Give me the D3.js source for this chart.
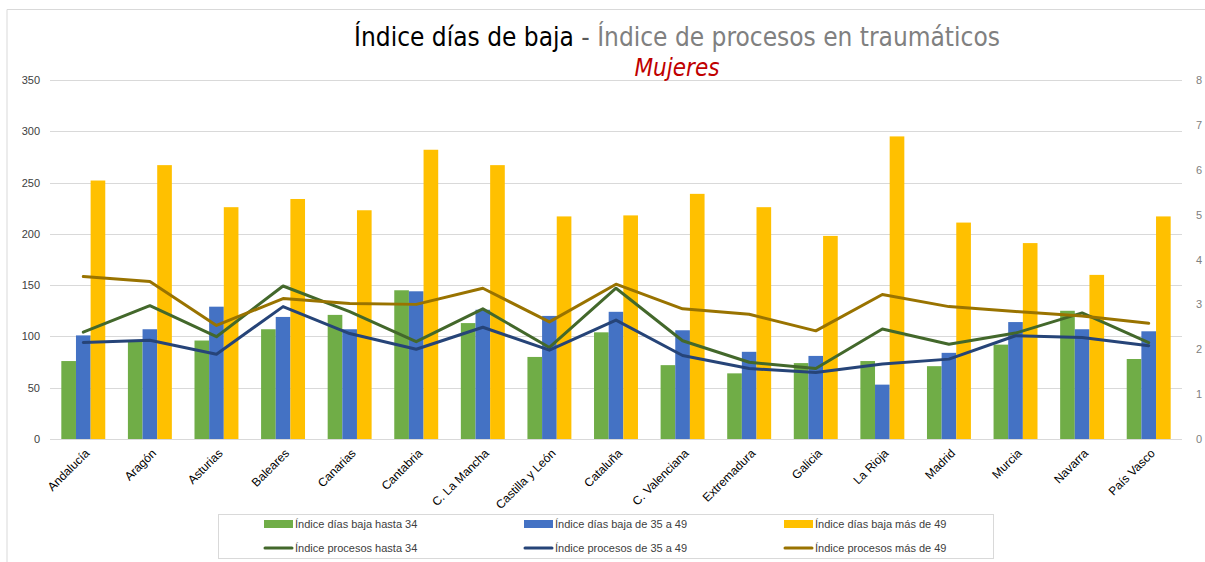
<!DOCTYPE html>
<html>
<head>
<meta charset="utf-8">
<script src="https://cdn.jsdelivr.net/npm/d3@7"></script>
<style>
  body { margin: 0; background: #fff; }
  svg { display: block; }
</style>
</head>
<body>
<div id="chart"></div>
<script>
// Dimensioni della pagina
const width = 1205;
const height = 562;

// Dati
const regions = ["Andalucía", "Aragón", "Asturias", "Baleares", "Canarias", "Cantabria", "C. La Mancha",
  "Castilla y León", "Cataluña", "C. Valenciana", "Extremadura", "Galicia", "La Rioja", "Madrid",
  "Murcia", "Navarra", "País Vasco"];

const diasHasta34 = [76, 95, 96, 107, 121, 145, 113, 80, 104, 72, 64, 74, 76, 71, 92, 125, 78];
const dias35a49 = [101, 107, 129, 119, 107, 144, 126, 120, 124, 106, 85, 81, 53, 84, 114, 107, 105];
const diasMas49 = [252, 267, 226, 234, 223, 282, 267, 217, 218, 239, 226, 198, 295, 211, 191, 160, 217];

const procHasta34 = [2.38, 2.97, 2.28, 3.41, 2.84, 2.17, 2.90, 2.04, 3.36, 2.19, 1.71, 1.57, 2.45, 2.11, 2.36, 2.81, 2.15];
const proc35a49 = [2.15, 2.20, 1.89, 2.95, 2.35, 2.00, 2.49, 1.98, 2.65, 1.86, 1.57, 1.48, 1.67, 1.78, 2.30, 2.26, 2.08];
const procMas49 = [3.62, 3.51, 2.53, 3.13, 3.02, 3.00, 3.36, 2.61, 3.45, 2.90, 2.78, 2.41, 3.22, 2.95, 2.84, 2.74, 2.58];

const leftTicks = [0, 50, 100, 150, 200, 250, 300, 350];
const rightTicks = [0, 1, 2, 3, 4, 5, 6, 7, 8];

const barSeries = [
  { name: "Índice días baja hasta 34", values: diasHasta34, color: "#70ad47" },
  { name: "Índice días baja de 35 a 49", values: dias35a49, color: "#4472c4" },
  { name: "Índice días baja más de 49", values: diasMas49, color: "#ffc000" }
];
const lineSeries = [
  { name: "Índice procesos hasta 34", values: procHasta34, color: "#43682b" },
  { name: "Índice procesos de 35 a 49", values: proc35a49, color: "#264478" },
  { name: "Índice procesos más de 49", values: procMas49, color: "#997300" }
];

const font = "'Liberation Sans', Arial, sans-serif";
const titleFont = "'DejaVu Sans Condensed', 'DejaVu Sans', sans-serif";

const svg = d3.select("#chart")
  .append("svg")
  .attr("width", width)
  .attr("height", height)
  .style("font-family", font);

// Bordo esterno del grafico
svg.append("path")
  .attr("d", `M7,${height} V9.5 H${width}`)
  .attr("fill", "none")
  .attr("stroke", "#d9d9d9");

// Area del grafico
const plot = { left: 50, right: 1182, top: 80, bottom: 439 };

const x0 = d3.scaleBand()
  .domain(regions)
  .range([plot.left, plot.right]);

const bw = x0.bandwidth();
const x1 = d3.scaleBand()
  .domain(barSeries.map(d => d.name))
  .range([bw * 0.17, bw * 0.83]);

const yLeft = d3.scaleLinear().domain([0, 350]).range([plot.bottom, plot.top]);
const yRight = d3.scaleLinear().domain([0, 8]).range([plot.bottom, plot.top]);

// Griglia
svg.append("g")
  .selectAll("line")
  .data(leftTicks)
  .join("line")
  .attr("x1", plot.left)
  .attr("x2", plot.right)
  .attr("y1", d => Math.round(yLeft(d)) + 0.5)
  .attr("y2", d => Math.round(yLeft(d)) + 0.5)
  .attr("stroke", "#d9d9d9")
  .attr("stroke-width", 1);

// Asse sinistro
const axisL = svg.append("g")
  .attr("transform", `translate(${plot.left - 10},0)`)
  .call(d3.axisLeft(yLeft).tickValues(leftTicks).tickSize(0).tickPadding(0));
axisL.select(".domain").remove();
axisL.selectAll("text")
  .attr("font-size", 11)
  .attr("font-family", font)
  .attr("fill", "#404040");

// Asse destro
const axisR = svg.append("g")
  .attr("transform", `translate(${plot.right + 14},0)`)
  .call(d3.axisRight(yRight).tickValues(rightTicks).tickSize(0).tickPadding(0));
axisR.select(".domain").remove();
axisR.selectAll("text")
  .attr("font-size", 11)
  .attr("font-family", font)
  .attr("fill", "#808080");

// Barre
const groups = svg.append("g")
  .selectAll("g")
  .data(regions)
  .join("g")
  .attr("transform", d => `translate(${x0(d)},0)`);

groups.selectAll("rect")
  .data((d, i) => barSeries.map(s => ({ key: s.name, value: s.values[i], color: s.color })))
  .join("rect")
  .attr("x", d => x1(d.key))
  .attr("width", x1.bandwidth())
  .attr("y", d => yLeft(d.value))
  .attr("height", d => yLeft(0) - yLeft(d.value))
  .attr("fill", d => d.color);

// Linee
const line = d3.line()
  .x((d, i) => x0(regions[i]) + bw / 2)
  .y(d => yRight(d));

svg.append("g")
  .selectAll("path")
  .data(lineSeries)
  .join("path")
  .attr("d", d => line(d.values))
  .attr("fill", "none")
  .attr("stroke", d => d.color)
  .attr("stroke-width", 3)
  .attr("stroke-linejoin", "round")
  .attr("stroke-linecap", "round");

// Etichette asse x
svg.append("g")
  .selectAll("text")
  .data(regions)
  .join("text")
  .attr("transform", d => `translate(${x0(d) + bw / 2 + 4},${plot.bottom + 12}) rotate(-45)`)
  .attr("text-anchor", "end")
  .attr("dy", "0.35em")
  .attr("font-size", 12)
  .attr("fill", "#000")
  .text(d => d);

// Titolo
const title = svg.append("text")
  .attr("x", 677)
  .attr("y", 46)
  .attr("text-anchor", "middle")
  .attr("font-family", titleFont)
  .attr("font-size", 26);
title.append("tspan").attr("fill", "#000").text("Índice días de baja");
title.append("tspan").attr("fill", "#595959").text(" - ");
title.append("tspan").attr("fill", "#808080").text("Índice de procesos en traumáticos");

svg.append("text")
  .attr("x", 677)
  .attr("y", 76)
  .attr("text-anchor", "middle")
  .attr("font-family", titleFont)
  .attr("font-style", "italic")
  .attr("font-size", 24)
  .attr("fill", "#c00000")
  .text("Mujeres");

// Legenda
const legend = svg.append("g");
legend.append("rect")
  .attr("x", 218.5)
  .attr("y", 514.5)
  .attr("width", 775)
  .attr("height", 44)
  .attr("fill", "#fff")
  .attr("stroke", "#d9d9d9");

const legendCols = [264, 524, 784];
const legendRows = [524, 548];

barSeries.forEach((s, i) => {
  const g = legend.append("g").attr("transform", `translate(${legendCols[i]},${legendRows[0]})`);
  g.append("rect").attr("x", 0).attr("y", -4).attr("width", 29).attr("height", 8).attr("fill", s.color);
  g.append("text").attr("x", 31).attr("dy", "0.35em").attr("font-size", 11).attr("fill", "#404040").text(s.name);
});
lineSeries.forEach((s, i) => {
  const g = legend.append("g").attr("transform", `translate(${legendCols[i]},${legendRows[1]})`);
  g.append("line").attr("x1", 1).attr("x2", 28).attr("stroke", s.color).attr("stroke-width", 3).attr("stroke-linecap", "round");
  g.append("text").attr("x", 31).attr("dy", "0.35em").attr("font-size", 11).attr("fill", "#404040").text(s.name);
});
</script>
</body>
</html>
